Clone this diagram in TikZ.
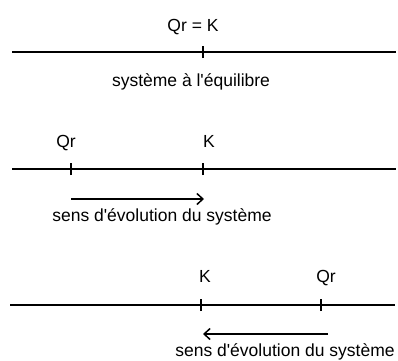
\documentclass[tikz,border=0pt]{standalone}
\usepackage{fontspec}
\setmainfont{Liberation Sans}
\usetikzlibrary{arrows.meta,positioning}

\begin{document}
\begin{tikzpicture}[
  x=1pt, y=-1pt, >={Straight Barb[length=6pt,width=11pt]},
  font=\fontsize{17.5}{20}\selectfont,
  axe/.style={line width=1.5pt},
  grad/.style={line width=1.5pt},
  lbl/.style={inner sep=0pt, anchor=base},
  arr/.style={->, line width=1.5pt},
]
  \useasboundingbox (0,0) rectangle (398,360);

  % equilibre
  \coordinate (g1) at (12,52);
  \coordinate (d1) at (396,52);
  \coordinate (k1) at (203,52);
  \draw[axe] (g1) -- (d1);
  \draw[grad] ([yshift=-6pt]k1) -- ([yshift=6pt]k1);
  \node[lbl] (eq1) at (193,31) {Qr = K};
  \node[lbl] (txt1) at (191,86) {système à l\textquotesingle équilibre};

  % Qr < K
  \coordinate (g2) at (12,169);
  \coordinate (d2) at (396,169);
  \coordinate (q2) at (71,169);
  \coordinate (k2) at (203,169);
  \draw[axe] (g2) -- (d2);
  \draw[grad] ([yshift=-6pt]q2) -- ([yshift=6pt]q2);
  \draw[grad] ([yshift=-6pt]k2) -- ([yshift=6pt]k2);
  \node[lbl] (lq2) at (66,147) {Qr};
  \node[lbl] (lk2) at (209,147) {K};
  \coordinate (a2) at (71,199);
  \coordinate (b2) at (204,199);
  \draw[arr] (a2) -- (b2);
  \node[lbl] (txt2) at (162,221) {sens d\textquotesingle évolution du système};

  % Qr > K
  \coordinate (g3) at (10,305);
  \coordinate (d3) at (395,305);
  \coordinate (k3) at (201,305);
  \coordinate (q3) at (321,305);
  \draw[axe] (g3) -- (d3);
  \draw[grad] ([yshift=-6pt]k3) -- ([yshift=6pt]k3);
  \draw[grad] ([yshift=-6pt]q3) -- ([yshift=6pt]q3);
  \node[lbl] (lk3) at (205,282) {K};
  \node[lbl] (lq3) at (326,282) {Qr};
  \coordinate (a3) at (328,334);
  \coordinate (b3) at (203,334);
  \draw[arr] (a3) -- (b3);
  \node[lbl] (txt3) at (285,356) {sens d\textquotesingle évolution du système};
\end{tikzpicture}
\end{document}
